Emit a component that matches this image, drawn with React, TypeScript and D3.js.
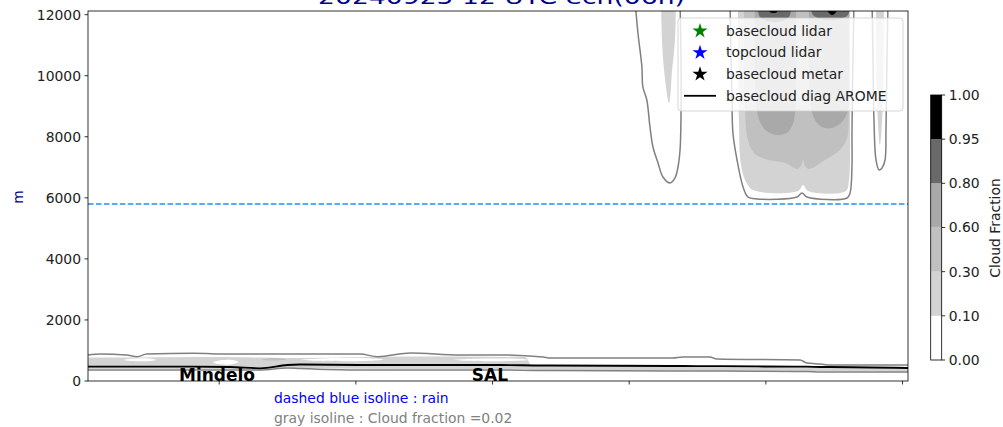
import React from 'react';
import * as d3 from 'd3';

type P = [number, number];

// ---------- axes / labels ----------
const yTicks = [0, 2000, 4000, 6000, 8000, 10000, 12000];
const xTicks = [96, 196, 296, 396, 496, 596];
const stationNames = ['Mindelo', 'SAL'];
const stationX = [94.4, 294.1];

const cfLevels = [0, 0.1, 0.3, 0.6, 0.8, 0.95, 1.0];
const cfColors = ['white', 'lightgray', 'silver', 'darkgray', 'dimgray', 'black'];

const legendLabels = ['basecloud lidar', 'topcloud lidar', 'basecloud metar', 'basecloud diag AROME'];
const legendColors = ['green', 'blue', 'black', 'black'];
const legendKinds = ['star', 'star', 'star', 'line'];

const titleText = '20240925 12 UTC ech(06h)';
const noteLines = ['dashed blue isoline : rain', 'gray isoline : Cloud fraction =0.02'];
const noteColors = ['blue', 'gray'];

// ---------- rain isoline (m) ----------
const rainX = [0, 600];
const rainH = [5800, 5800];

// ---------- low cloud layer ----------
const lowXs = [0, 9, 28, 36, 43, 77, 104, 126, 146, 155, 199, 212, 236, 272, 302, 333, 338, 428, 435, 455, 460, 521, 526, 536, 543, 600];
const lowTopIso = [852, 884, 852, 796, 884, 907, 884, 884, 884, 884, 884, 796, 917, 852, 852, 786, 753, 753, 786, 786, 721, 688, 590, 557, 524, 524];
const lowBaseIso = [360, 360, 360, 360, 360, 360, 360, 360, 426, 409, 360, 360, 360, 360, 360, 344, 344, 328, 328, 328, 328, 311, 311, 295, 295, 295];
const aromeBase = [468, 468, 468, 468, 468, 468, 459, 416, 524, 540, 524, 524, 524, 524, 524, 508, 508, 491, 491, 485, 485, 468, 468, 459, 459, 426];

const fillXs = [0, 30, 77, 126, 146, 155, 236, 320, 325, 428, 521, 600];
const fill01Top = [770, 770, 786, 770, 753, 753, 802, 786, 491, 475, 459, 426];
const fill01Bot = [393, 393, 393, 393, 442, 426, 393, 393, 360, 344, 328, 311];

const lowHoles: P[][] = [
  [[26, 690], [33, 735], [46, 730], [50, 690], [42, 650], [31, 655]],
  [[91, 620], [97, 680], [106, 690], [110, 620], [104, 540], [94, 560]],
  [[156, 700], [175, 745], [210, 735], [216, 700], [195, 650], [165, 660]],
  [[268, 700], [285, 730], [318, 720], [322, 690], [300, 650], [275, 665]],
];
const lowPatch03: P[] = [[127, 700], [131, 740], [140, 745], [145, 715], [141, 680], [131, 675]];

// ---------- upper cloud curtains ----------
const isoLeft: P[] = [[400.2, 12500], [402.4, 11399], [405.3, 10286], [406.0, 9631], [408.9, 9205], [411.2, 8320], [413.4, 7665], [417.1, 7141], [420.7, 6682], [425.9, 6486], [429.5, 6650], [431.7, 7010], [433.2, 7567], [433.9, 8648], [433.9, 10515], [433.2, 12500]];
const isoMid: P[] = [[469.8, 12500], [470.5, 10515], [471.2, 9205], [471.9, 8124], [474.9, 7239], [479.3, 6355], [482.9, 6027], [489.5, 5962], [518.8, 6027], [522.4, 6158], [526.1, 6027], [555.4, 5994], [557.6, 6158], [559.0, 7010], [559.0, 8124], [559.7, 10515], [560.5, 12500]];
const isoNarrow: P[] = [[573.7, 12500], [574.4, 10515], [575.1, 8550], [576.6, 7239], [578.8, 6912], [581.0, 6977], [583.2, 7239], [583.9, 8222], [584.6, 10515], [585.4, 12500]];

const fillLeft01: P[] = [[419.3, 12500], [420.0, 11170], [421.5, 10187], [425.2, 9106], [427.4, 10187], [429.5, 11170], [430.2, 12500]];
const fillMid01: P[] = [[475.6, 12500], [476.3, 8550], [477.8, 7076], [481.5, 6519], [486.6, 6256], [519.5, 6224], [523.2, 6420], [526.8, 6224], [554.6, 6224], [556.8, 6584], [557.6, 8222], [557.6, 12500]];
const fillNarrow01: P[] = [[576.6, 12500], [577.3, 9205], [579.5, 7731], [581.7, 9205], [582.4, 12500]];
const fillMid03: P[] = [[480.0, 12500], [480.7, 8877], [482.9, 7894], [487.3, 7469], [495.4, 7272], [510.0, 7141], [518.8, 6944], [521.7, 7043], [523.2, 7239], [524.6, 7043], [527.6, 6944], [539.3, 7239], [550.2, 7567], [555.4, 7960], [556.8, 8877], [556.8, 12500]];
const fillMid06L: P[] = [[488.0, 12500], [488.8, 9205], [491.7, 8484], [497.6, 8156], [504.9, 8058], [512.2, 8156], [516.6, 8550], [518.0, 9532], [518.0, 12500]];
const fillMid06R: P[] = [[527.6, 12500], [528.3, 9368], [531.2, 8615], [537.1, 8320], [544.4, 8288], [551.7, 8484], [556.1, 8877], [556.8, 9860], [556.8, 12500]];
const fillMid08L: P[] = [[490.2, 12500], [491.7, 11924], [502.7, 11760], [512.9, 11924], [514.4, 12500]];
const fillMid08R: P[] = [[529.0, 12500], [530.5, 11989], [542.9, 11825], [556.1, 11989], [556.8, 12500]];
const fillMid095L: P[] = [[497.6, 12500], [499.0, 12087], [504.2, 12087], [505.6, 12500]];
const fillMid095R: P[] = [[540.1, 12500], [540.3, 12250], [541.6, 12087], [544.5, 11989], [547.4, 12087], [548.6, 12250], [548.8, 12500]];

const upperFills: P[][][] = [
  [fillLeft01, fillMid01, fillNarrow01],
  [fillMid03],
  [fillMid06L, fillMid06R],
  [fillMid08L, fillMid08R],
  [fillMid095L, fillMid095R],
];
const upperIsos: P[][] = [isoLeft, isoMid, isoNarrow];

const FONT = 'DejaVu Sans, sans-serif';

export default function App() {
  const W = 1003, H = 427;
  const x = d3.scaleLinear().domain([0, 600]).range([88, 908]);
  const y = d3.scaleLinear().domain([0, 12120]).range([381, 11]);
  const x0 = x.range()[0], x1 = x.range()[1];
  const yb = y.range()[0], yt = y.range()[1];

  const smooth = d3.line<P>().x(d => x(d[0])).y(d => y(d[1])).curve(d3.curveCatmullRom.alpha(0.5));
  const poly = (pts: P[]) => (smooth(pts) || '') + 'Z';

  const lowLine = (vals: number[]) =>
    d3.line<number>().x(d => x(d)).y((_, i) => y(vals[i])).curve(d3.curveMonotoneX)(lowXs) || '';
  const lowFill = d3.area<number>()
    .x(d => x(d)).y0((_, i) => y(fill01Bot[i])).y1((_, i) => y(fill01Top[i]))
    .curve(d3.curveMonotoneX)(fillXs) || '';
  const rainPath = d3.line<number>().x(d => x(d)).y((_, i) => y(rainH[i]))(rainX) || '';

  const star = d3.symbol().type(d3.symbolStar).size(70)() || '';

  // colorbar
  const cbX0 = 930.7, cbX1 = 941.7;
  const cb = d3.scaleLinear().domain([0, cfLevels.length - 1]).range([360, 95]);

  // legend layout
  const lgX = 678, lgY = 18, lgW = 225, lgH = 93;
  const lgRow = (i: number) => 31 + i * 21.6;

  return (
    <svg width={W} height={H} style={{ position: 'absolute', left: 0, top: 0, background: 'white' }} fontFamily={FONT}>
      <defs>
        <clipPath id="plot">
          <rect x={x0} y={yt} width={x1 - x0} height={yb - yt} />
        </clipPath>
      </defs>
      <rect x={0} y={0} width={W} height={H} fill="white" />

      {/* title (mostly clipped at top) */}
      <text x={501.5} y={4} textAnchor="middle" fontSize={20} fill="darkblue" textLength={367} lengthAdjust="spacingAndGlyphs">{titleText}</text>

      <g clipPath="url(#plot)">
        {/* low layer */}
        <path d={lowFill} fill={cfColors[1]} />
        {lowHoles.map((h, i) => <path key={'h' + i} d={poly(h)} fill="white" />)}
        <path d={poly(lowPatch03)} fill={cfColors[2]} />

        {/* upper curtains */}
        {upperFills.map((group, li) => group.map((pg, j) => (
          <path key={`f${li}-${j}`} d={poly(pg)} fill={cfColors[li + 1]} />
        )))}
        {upperIsos.map((pg, i) => (
          <path key={'iso' + i} d={smooth(pg) || ''} fill="none" stroke="gray" strokeWidth={1.5} />
        ))}

        {/* low isolines */}
        <path d={lowLine(lowTopIso)} fill="none" stroke="gray" strokeWidth={1.5} />
        <path d={lowLine(lowBaseIso)} fill="none" stroke="gray" strokeWidth={1.5} />
        <path d={lowLine(aromeBase)} fill="none" stroke="black" strokeWidth={1.8} />

        {/* rain */}
        <path d={rainPath} fill="none" stroke="dodgerblue" strokeWidth={1.5} strokeDasharray="5.55 2.4" />
      </g>

      {/* station labels */}
      {stationNames.map((s, i) => (
        <text key={s} x={x(stationX[i])} y={y(0) - 0.5} textAnchor="middle" fontWeight="bold" fontSize={17} fill="black">{s}</text>
      ))}

      {/* axes frame */}
      <rect x={x0} y={yt} width={x1 - x0} height={yb - yt} fill="none" stroke="black" strokeWidth={0.8} />
      {yTicks.map(t => (
        <g key={'y' + t}>
          <line x1={x0 - 3.5} x2={x0} y1={y(t)} y2={y(t)} stroke="black" strokeWidth={0.8} />
          <text x={x0 - 7} y={y(t)} dy="0.35em" textAnchor="end" fontSize={13.9} fill="#222">{t}</text>
        </g>
      ))}
      {xTicks.map(t => (
        <line key={'x' + t} x1={x(t)} x2={x(t)} y1={yb} y2={yb + 3.5} stroke="black" strokeWidth={0.8} />
      ))}
      <text transform={`translate(23,197) rotate(-90)`} textAnchor="middle" fontSize={13.9} fill="darkblue">m</text>

      {/* legend */}
      <rect x={lgX} y={lgY} width={lgW} height={lgH} rx={3} fill="white" fillOpacity={0.8} stroke="#cccccc" strokeWidth={0.8} />
      {legendLabels.map((lab, i) => (
        <g key={lab}>
          {legendKinds[i] === 'star'
            ? <path d={star} transform={`translate(700,${lgRow(i)})`} fill={legendColors[i]} />
            : <line x1={684} x2={716} y1={lgRow(i)} y2={lgRow(i)} stroke={legendColors[i]} strokeWidth={1.8} />}
          <text x={726} y={lgRow(i)} dy="0.35em" fontSize={13.9} fill="#222">{lab}</text>
        </g>
      ))}

      {/* colorbar */}
      {cfColors.map((c, i) => (
        <rect key={'cb' + i} x={cbX0} y={cb(i + 1)} width={cbX1 - cbX0} height={cb(i) - cb(i + 1)} fill={c} />
      ))}
      <rect x={cbX0} y={cb(cfLevels.length - 1)} width={cbX1 - cbX0} height={cb(0) - cb(cfLevels.length - 1)} fill="none" stroke="black" strokeWidth={0.8} />
      {cfLevels.map((v, i) => (
        <g key={'cbt' + i}>
          <line x1={cbX1} x2={cbX1 + 3.5} y1={cb(i)} y2={cb(i)} stroke="black" strokeWidth={0.8} />
          <text x={cbX1 + 7} y={cb(i)} dy="0.35em" fontSize={13.9} fill="#222">{v.toFixed(2)}</text>
        </g>
      ))}
      <text transform={`translate(1000,228) rotate(-90)`} textAnchor="middle" fontSize={13.9} fill="#222">Cloud Fraction</text>

      {/* notes */}
      {noteLines.map((t, i) => (
        <text key={t} x={274} y={403 + i * 20.3} fontSize={13.9} fill={noteColors[i]}>{t}</text>
      ))}
    </svg>
  );
}
